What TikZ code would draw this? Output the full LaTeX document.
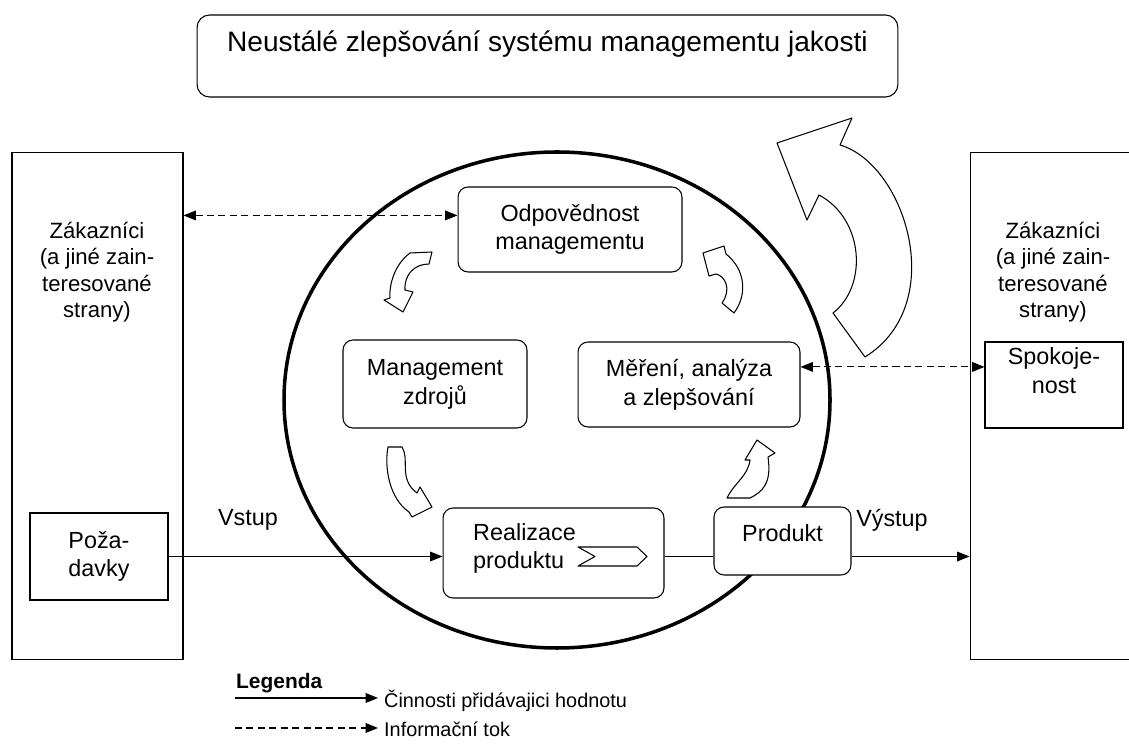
\documentclass[tikz,border=0pt]{standalone}
\usepackage{fontspec}
\setmainfont{Liberation Sans}
\usetikzlibrary{arrows.meta,positioning}

\newcommand\boxfont{\fontsize{13.3}{16.4}\selectfont}
\newcommand\sidefont{\fontsize{12.6}{15}\selectfont}

\begin{document}
\begin{tikzpicture}[x=0.02cm,y=0.02cm,
  rbox/.style={draw,fill=white,rounded corners=0.2cm,line width=0.6pt,inner sep=0pt,align=center,font=\boxfont},
  sbox/.style={draw,fill=white,line width=0.6pt,inner sep=0pt,align=center,font=\boxfont},
  flow/.style={line width=0.6pt,-{Triangle[length=7pt,width=5.5pt]}},
  info/.style={line width=0.6pt,dash pattern=on 4pt off 2.5pt,{Triangle[length=7pt,width=5.5pt]}-{Triangle[length=7pt,width=5.5pt]}},
  blockarrow/.style={draw,fill=white,line width=0.6pt,line join=round}]

\useasboundingbox (0,0) rectangle (1129,754);

% Top box
\node[rbox,rounded corners=0.25cm,minimum width=14.02cm,minimum height=1.64cm] (improve) at (547.5,698) {};
\node[font=\fontsize{16}{18}\selectfont] (improvetext) at (547.5,710)
  {Neustálé zlepšování systému managementu jakosti};

% Customers left and right
\node[sbox,minimum width=3.42cm,minimum height=10.16cm] (custL) at (97.5,348) {};
\node[sbox,minimum width=3.6cm,minimum height=10.16cm] (custR) at (1060,348) {};
\node[align=center,font=\sidefont] (custLtext) at (97,482)
  {Zákazníci\\(a jiné zain-\\teresované\\strany)};
\node[align=center,font=\sidefont] (custRtext) at (1053,482)
  {Zákazníci\\(a jiné zain-\\teresované\\strany)};

% Process circle
\draw[line width=2pt] (557,354) ellipse [x radius=273, y radius=248];

% Boxes inside
\node[rbox,minimum width=4.48cm,minimum height=1.7cm] (odp) at (570,524.5) {Odpovědnost\\managementu};
\node[rbox,minimum width=3.68cm,minimum height=1.76cm] (zdroje) at (435,370) {Management\\zdrojů};
\node[rbox,minimum width=4.44cm,minimum height=1.7cm] (mereni) at (689,369.5) {Měření, analýza\\a zlepšování};
\node[rbox,minimum width=4.42cm,minimum height=1.8cm] (real) at (553.5,201) {};
\node[anchor=west,align=left,font=\boxfont] (realtext) at (467,205.5) {Realizace\\produktu};
\node[rbox,minimum width=2.74cm,minimum height=1.36cm] (prod) at (782.5,213) {};
\node[font=\boxfont] (prodtext) at (782.5,221) {Produkt};

% Requirements and satisfaction
\node[sbox,minimum width=2.76cm,minimum height=1.74cm] (pozad) at (99,197.5) {Poža-\\davky};
\node[sbox,minimum width=2.76cm,minimum height=1.72cm] (spok) at (1054,369) {};
\node[align=center,font=\boxfont] (spoktext) at (1054,383) {Spokoje-\\nost};

% Value chevron
\draw[line width=0.6pt,line join=round] (578,207) -- (637,207) -- (647,197.5) -- (637,188)
  -- (578,188) -- (595,197.5) -- cycle;

% Value flow
\draw[flow] (pozad.east) -- (pozad.east -| real.west);
\draw[line width=0.6pt] (pozad.east -| real.east) -- (pozad.east -| prod.west);
\draw[flow] (pozad.east -| prod.east) -- (pozad.east -| custR.west);
\node[font=\boxfont] (vstup) at (248,234) {Vstup};
\node[font=\boxfont] (vystup) at (892,234) {Výstup};

% Information flow
\draw[info] ([yshift=8]odp.west -| custL.east) -- ([yshift=8]odp.west);
\draw[info] ([yshift=10]mereni.east) -- ([yshift=10]mereni.east -| spok.west);

% Small cycle arrows
\draw[blockarrow] (410,501) .. controls (395,490) and (389,470) .. (390,456) -- (384,454)
  -- (403,442) -- (413,462) -- (405,464) .. controls (404,480) and (415,490) .. (429,490)
  -- (432,502) -- cycle;
\draw[blockarrow] (388,307) -- (402,307) .. controls (410,295) and (398,275) .. (417,261)
  -- (420,267) -- (432,247) -- (412,237) -- (409,242) .. controls (390,255) and (384,285) .. cycle;
\draw[blockarrow] (757,314) -- (775,301) -- (768,297) .. controls (772,270) and (762,262) .. (750,256)
  -- (727,256) .. controls (735,272) and (748,278) .. (750,294) -- (745,294) -- cycle;
\draw[blockarrow] (703,501) -- (724,508) -- (726,500) .. controls (745,485) and (748,460) .. (734,441)
  -- (722,451) .. controls (732,465) and (725,478) .. (716,480) -- (709,478) -- cycle;

% Big improvement arrow
\draw[blockarrow] (777,611) -- (852,636) -- (840,609) .. controls (905,590) and (950,450) .. (865,397)
  -- (833,441) .. controls (868,468) and (864,535) .. (819,559) -- (807,534) -- cycle;

% Legend
\node[anchor=west,font=\fontsize{11.9}{14}\selectfont\bfseries] (legtitle) at (230,71) {Legenda};
\node[anchor=west,font=\fontsize{11.3}{13}\selectfont] (legsolid) at (378,53) {Činnosti přidávajici hodnotu};
\node[anchor=west,font=\fontsize{11.3}{13}\selectfont] (legdash) at (378,25) {Informační tok};
\coordinate (ls) at (235,56);
\coordinate (ld) at (235,26);
\draw[flow] (ls) -- (ls -| legsolid.west);
\draw[line width=0.6pt,dash pattern=on 4pt off 2.5pt,-{Triangle[length=7pt,width=5.5pt]}] (ld) -- (ld -| legdash.west);

\end{tikzpicture}
\end{document}
